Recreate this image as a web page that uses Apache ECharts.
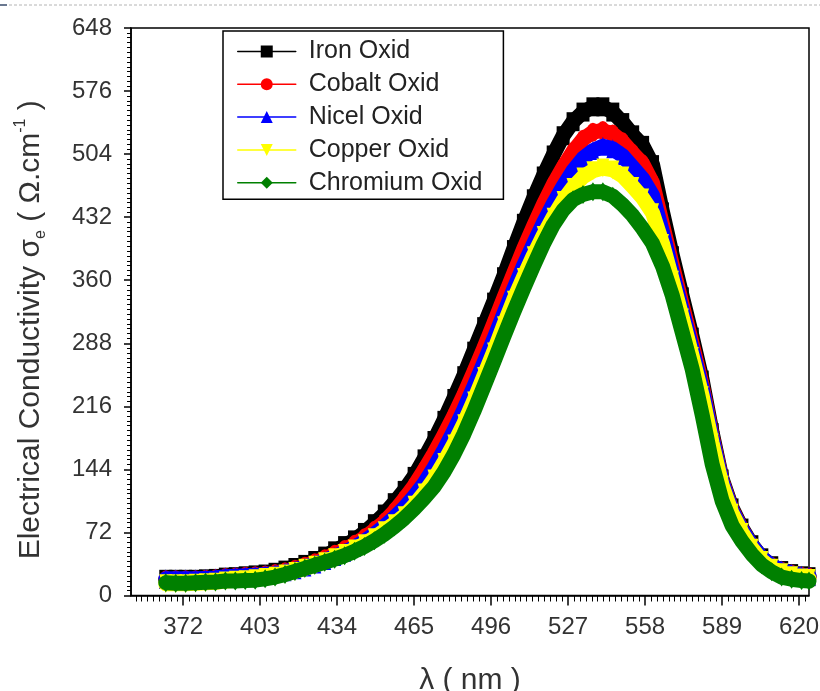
<!DOCTYPE html>
<html>
<head>
<meta charset="utf-8">
<title>Electrical Conductivity</title>
<script src="https://cdn.jsdelivr.net/npm/echarts@6/dist/echarts.min.js"></script>
<style>
  html, body { margin: 0; padding: 0; background: #fff; }
  #chart { width: 820px; height: 691px; }
</style>
</head>
<body>
<div id="chart"></div>
<script>
// wavelength grid (nm), shared by all series
const wavelength = [
  365, 369, 373, 377, 381, 385, 389, 393, 397, 401, 405, 409, 413, 417, 421, 425, 429,
  433, 437, 441, 445, 449, 453, 457, 461, 465, 469, 473, 477, 481, 485, 489, 493, 497,
  501, 505, 509, 513, 517, 521, 525, 529, 533, 537, 541, 545, 549, 553, 557, 561, 565,
  569, 573, 577, 581, 585, 589, 593, 597, 601, 605, 609, 613, 617, 621, 624
];

const ironOxid = [
  18.5, 18.5, 18.5, 18.5, 19, 19.5, 21, 21.5, 22.5, 23.5, 24.5, 26.5, 29, 32, 35.5, 40, 45,
  51, 57, 63.5, 72, 82, 93, 106, 120, 136, 156, 177, 200, 225, 251, 279, 307, 335,
  364, 395, 425, 453, 479, 503, 525, 541, 552, 558, 558, 552, 540, 526, 514, 492, 438,
  388, 341, 295, 246, 186, 133, 100, 77, 58, 43, 34, 28.5, 25, 22.5, 21.5
];
const cobaltOxid = [
  18, 18, 18, 18, 18.5, 19, 20.5, 21, 22, 22.5, 23.5, 25, 27, 30, 33.5, 37.5, 42,
  47, 52.5, 58.5, 66, 74.5, 84, 96, 110, 125, 143, 162, 183, 205, 229, 255, 282, 310,
  339, 367, 395, 421, 446, 469, 489, 507, 521, 529, 531, 527, 518, 505, 493, 471, 424,
  377, 332, 287, 240, 182, 131, 98, 75.5, 57, 42.5, 33.5, 28, 24.5, 22, 21
];
const nicelOxid = [
  19, 19, 19, 19, 19.5, 20, 21.5, 22, 22.5, 23, 24, 25, 27, 29.5, 32.5, 36, 40,
  44.5, 49.5, 55, 62, 70, 79, 89, 100, 113, 128, 146, 166, 188, 212, 238, 265, 292,
  321, 349, 376, 401, 425, 447, 467, 485, 499, 508, 513, 510, 502, 489, 476, 457, 415,
  369, 325, 281, 236, 180, 130, 97, 75, 57, 43, 34, 29, 25.5, 23, 22
];
const copperOxid = [
  13.5, 13.5, 13.5, 14, 14.5, 15, 16.5, 17.5, 18, 19, 20.5, 22, 24.5, 27.5, 31, 34.5, 38.5,
  43, 48, 53, 59, 66, 74, 82, 91, 103, 117, 133, 152, 173, 196, 222, 250, 278,
  308, 337, 363, 388, 411, 432, 451, 466, 478, 485, 488, 486, 479, 467, 454, 437, 402,
  360, 317, 273, 228, 174, 126, 94, 72, 54, 40, 31, 26, 22.5, 20, 19.5
];
const chromiumOxid = [
  14.5, 14, 14, 14.5, 15, 15.5, 16.5, 16.5, 17, 17.5, 19, 21, 24, 27.5, 31, 34.5, 38,
  41.5, 45.5, 50.5, 56, 62.5, 70, 78.5, 88, 99, 111, 124, 141, 161, 184, 210, 238, 266,
  295, 323, 350, 376, 401, 423, 440, 452, 458, 461, 461, 456, 446, 434, 419, 402, 376,
  342, 300, 258, 206, 150, 108, 80, 62, 47, 35, 27, 21, 18.5, 17, 16.5
];

const seriesNames = ['Iron Oxid', 'Cobalt Oxid', 'Nicel Oxid', 'Copper Oxid', 'Chromium Oxid'];
const seriesValues = [ironOxid, cobaltOxid, nicelOxid, copperOxid, chromiumOxid];
const seriesColors = ['#000000', '#ff0000', '#0000ff', '#ffff00', '#008000'];
const seriesSymbols = ['rect', 'circle', 'triangle', 'path://M0,0L10,0L5,10Z', 'diamond'];

// axis ticks
const xTickValues = [372, 403, 434, 465, 496, 527, 558, 589, 620];
const xMin = 351;
const xMax = 624;
const yMin = 0;
const yMax = 648;
const yInterval = 72;

const font = "'Liberation Sans', Arial, sans-serif";

// minor ticks of the wavelength axis (13 sub-intervals per major step)
const minorStep = 31 / 13;
const xMinorTicks = [];
for (let k = -10; k <= 110; k++) {
  const v = xTickValues[0] + k * minorStep;
  if (k % 13 !== 0 && v > xMin && v < xMax) xMinorTicks.push(+v.toFixed(3));
}

const chart = echarts.init(document.getElementById('chart'));

const series = seriesNames.map((name, i) => ({
  name: name,
  type: 'line',
  z: 2 + i,
  data: wavelength.map((w, j) => [w, seriesValues[i][j]]),
  symbol: seriesSymbols[i],
  symbolSize: [13, 19],
  itemStyle: { color: seriesColors[i] },
  lineStyle: { color: seriesColors[i], width: 15, join: 'round', cap: 'round' },
  emphasis: { disabled: true }
}));

const option = {
  animation: false,
  backgroundColor: '#fff',
  textStyle: { fontFamily: font },
  graphic: [
    { type: 'line', shape: { x1: 0, y1: 5, x2: 7, y2: 5 }, style: { stroke: '#6a7890', lineWidth: 2 } },
    { type: 'line', shape: { x1: 9, y1: 5, x2: 820, y2: 5 }, style: { stroke: '#b4b4b4', lineWidth: 1, lineDash: [3, 2] } }
  ],
  grid: {
    left: 131,
    right: 11,
    top: 28,
    bottom: 95.5,
    outerBoundsMode: 'none',
    containLabel: false,
    show: true,
    borderColor: '#000',
    borderWidth: 1.5
  },
  legend: {
    orient: 'vertical',
    left: 223,
    top: 31,
    data: seriesNames,
    itemWidth: 58,
    itemHeight: 15,
    itemGap: 7.8,
    padding: [8, 21, 4, 14],
    borderColor: '#000',
    borderWidth: 1.5,
    backgroundColor: '#fff',
    z: 10,
    selectedMode: false,
    lineStyle: { width: 1.5 },
    itemStyle: { borderWidth: 0 },
    textStyle: { fontSize: 25, fontFamily: font, color: '#222', lineHeight: 25, padding: [0, 0, 0, 8] }
  },
  xAxis: [
    {
      type: 'value',
      min: xMin,
      max: xMax,
      name: 'λ ( nm )',
      nameLocation: 'middle',
      nameGap: 70,
      nameTextStyle: { fontSize: 30, color: '#333', fontFamily: font },
      axisLine: { show: true, lineStyle: { color: '#000', width: 1.5 } },
      axisTick: { show: true, customValues: xTickValues, length: 10, lineStyle: { color: '#000', width: 1.5 } },
      axisLabel: { customValues: xTickValues, fontSize: 24, color: '#333', margin: 20, fontFamily: font },
      splitLine: { show: false }
    },
    {
      type: 'value',
      min: xMin,
      max: xMax,
      position: 'bottom',
      offset: 0,
      axisLine: { show: false },
      axisTick: { show: true, customValues: xMinorTicks, length: 6, lineStyle: { color: '#000', width: 1 } },
      axisLabel: { show: false },
      splitLine: { show: false }
    }
  ],
  yAxis: {
    type: 'value',
    min: yMin,
    max: yMax,
    interval: yInterval,
    name: '{m|Electrical Conductivity σ}{s|e}{m| ( Ω.cm}{p|-1}{m| )}',
    nameLocation: 'middle',
    nameRotate: 90,
    nameGap: 82,
    nameTextStyle: {
      color: '#333',
      fontFamily: font,
      padding: [0, 36, 0, 0],
      rich: {
        m: { fontSize: 30, lineHeight: 36, color: '#333', fontFamily: font },
        s: { fontSize: 16, lineHeight: 16, verticalAlign: 'bottom', color: '#333', fontFamily: font },
        p: { fontSize: 16, lineHeight: 16, verticalAlign: 'top', color: '#333', fontFamily: font }
      }
    },
    axisLine: { show: true, lineStyle: { color: '#000', width: 1.5 } },
    axisTick: { show: true, length: 7, lineStyle: { color: '#000', width: 1.5 } },
    minorTick: { show: true, splitNumber: 13, length: 4, lineStyle: { color: '#000', width: 1 } },
    axisLabel: { fontSize: 24, color: '#333', margin: 19, fontFamily: font },
    splitLine: { show: false },
    minorSplitLine: { show: false }
  },
  series: series
};

chart.setOption(option);
</script>
</body>
</html>
